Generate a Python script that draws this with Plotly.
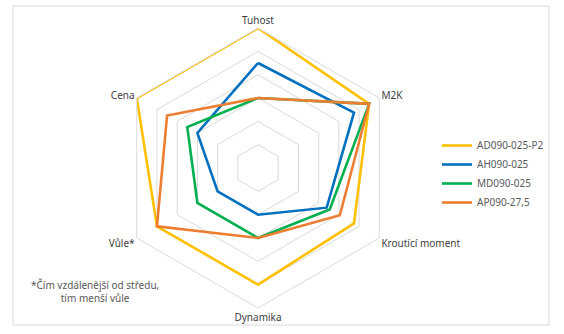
import plotly.graph_objects as go

categories = ["Tuhost", "M2K", "Kroutící moment", "Dynamika", "Vůle*", "Cena"]
series_names = ["AD090-025-P2", "AH090-025", "MD090-025", "AP090-27,5"]
ad090 = [6.0, 5.5, 4.75, 5.0, 5.0, 6.0]
ah090 = [4.5, 4.75, 3.4, 2.0, 2.0, 3.0]
md090 = [3.0, 5.5, 3.55, 3.0, 3.0, 3.5]
ap090 = [3.0, 5.5, 4.05, 3.0, 5.0, 4.5]
colors = ["#FFC000", "#0070C0", "#00B050", "#ED7D31"]
note = "*Čím vzdálenější od středu,<br>tím menší vůle"

W, H = 564, 334
fig = go.Figure()
for name, vals, col in zip(series_names, [ad090, ah090, md090, ap090], colors):
    fig.add_trace(go.Scatterpolar(
        r=vals + vals[:1], theta=categories + categories[:1],
        mode="lines", name=name,
        line=dict(color=col, width=2.6),
    ))

cx, cy, R = 258, 168, 140
fig.update_layout(
    width=W, height=H,
    margin=dict(l=0, r=0, t=0, b=0),
    paper_bgcolor="white",
    font=dict(family="Noto Sans", size=10, color="#595959"),
    polar=dict(
        domain=dict(x=[(cx - R) / W, (cx + R) / W], y=[1 - (cy + R) / H, 1 - (cy - R) / H]),
        gridshape="linear",
        bgcolor="white",
        radialaxis=dict(range=[0, 6], dtick=1, showticklabels=False, ticks="",
                        showline=False, gridcolor="#d9d9d9", gridwidth=1),
        angularaxis=dict(rotation=90, direction="clockwise", showgrid=False,
                         showline=True, linecolor="#d9d9d9", linewidth=1, ticks="",
                         tickfont=dict(family="Noto Sans", size=10, color="#404040")),
    ),
    legend=dict(x=437 / W, y=1 - 131 / H, xanchor="left", yanchor="top",
                font=dict(size=10, color="#595959"), itemwidth=30,
                tracegroupgap=0, bgcolor="rgba(0,0,0,0)"),
    shapes=[dict(type="rect", xref="paper", yref="paper",
                 x0=13 / W, x1=549 / W, y0=1 - 325 / H, y1=1 - 6 / H,
                 line=dict(color="#d9d9d9", width=1))],
    annotations=[dict(text=note, x=95 / W, y=1 - 291 / H, xref="paper", yref="paper",
                      xanchor="center", yanchor="middle",
                      showarrow=False, align="center", font=dict(size=10, color="#595959"))],
)
fig.write_html("out.html")
